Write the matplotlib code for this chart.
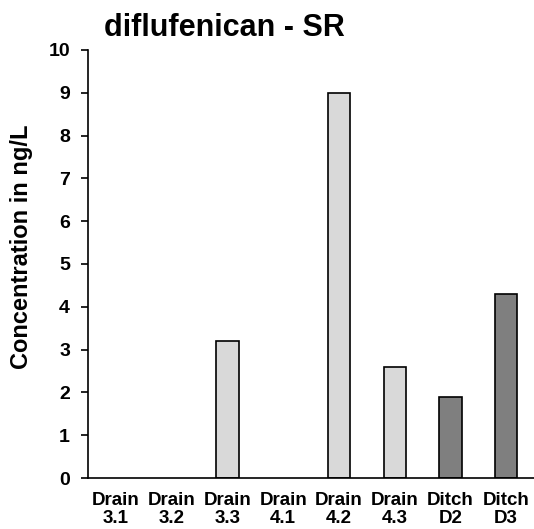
import numpy as np
import matplotlib.pyplot as plt

plt.rcParams['font.family'] = ['Liberation Sans', 'DejaVu Sans']

categories = ['Drain\n3.1', 'Drain\n3.2', 'Drain\n3.3', 'Drain\n4.1',
              'Drain\n4.2', 'Drain\n4.3', 'Ditch\nD2', 'Ditch\nD3']
values = [0, 0, 3.2, 0, 9.0, 2.6, 1.9, 4.3]
colors = ['#d9d9d9'] * 6 + ['#7f7f7f'] * 2

fig = plt.figure(figsize=(5.34, 5.29), dpi=100)
ax = fig.add_axes([0.165, 0.0964, 0.835, 0.8091])

x = np.arange(len(categories))
for xi, v, c in zip(x, values, colors):
    if v > 0:
        ax.bar(xi, v, width=0.4, color=c, edgecolor='black', linewidth=1.2)

ax.set_xlim(-0.5, len(categories) - 0.5)
ax.set_ylim(0, 10)
ax.set_yticks(range(0, 11))
ax.set_xticks(x)
ax.set_xticklabels(categories, fontsize=13.5, fontweight='bold', linespacing=1.1)
ax.tick_params(axis='x', length=0, pad=10)
ax.tick_params(axis='y', length=5, width=1.2, labelsize=14, pad=8)
for lbl in ax.get_yticklabels():
    lbl.set_fontweight('bold')

ax.spines['top'].set_visible(False)
ax.spines['right'].set_visible(False)
ax.spines['left'].set_linewidth(1.2)
ax.spines['bottom'].set_linewidth(1.2)

ax.set_ylabel('Concentration in ng/L', fontsize=17, fontweight='bold')
ax.yaxis.set_label_coords(-0.124, 0.54)
fig.text(0.42, 0.947, 'diflufenican - SR', ha='center', va='center',
         fontsize=22, fontweight='bold')

fig.savefig('out.png', dpi=100)
